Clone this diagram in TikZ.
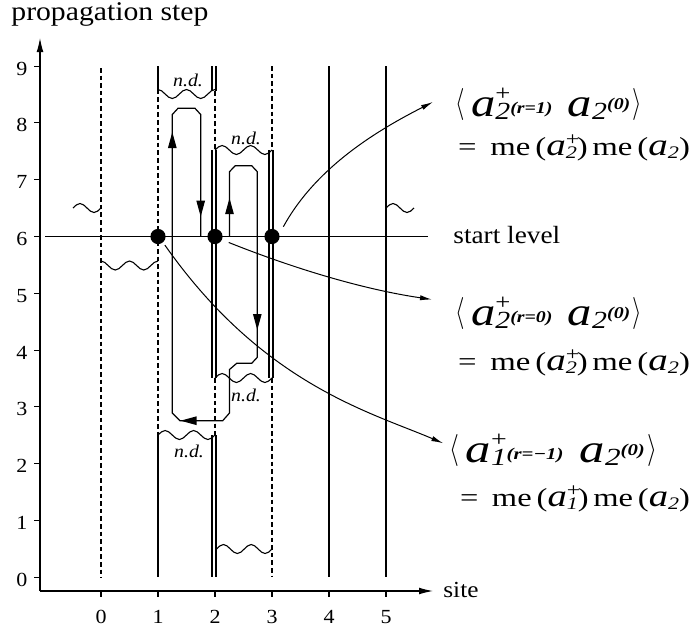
\documentclass[tikz,border=0pt]{standalone}
\usepackage{fontspec}
\setmainfont{Liberation Serif}[FakeStretch=1.1]
\usepackage{graphicx}
\usetikzlibrary{arrows.meta}

\newcommand\fs[1]{\fontsize{#1}{#1}\selectfont}
% first line of each formula
\newcommand\Ra{{\fs{20}\itshape a}}
\newcommand\Rsub[1]{\raisebox{-1.7pt}{\fs{12.3}\itshape #1}}
\newcommand\Rsup{\rlap{\raisebox{8pt}{\fs{11}+}}}
\newcommand\Rlab[2]{\raisebox{#1}{\fs{8.2}\bfseries\itshape #2}}
\newcommand\LA{\raisebox{2.2pt}{\scalebox{1.1}[1.6]{$\langle$}}}
\newcommand\RA{\raisebox{2.2pt}{\scalebox{1.1}[1.6]{$\rangle$}}}
\newcommand\FA[3]{\resizebox{#3}{\height}{\LA\hspace{3pt}\Ra\Rsup\Rsub{#1}\Rlab{1.6pt}{#2}\hspace{7pt}\Ra\Rsub{2}\Rlab{3.3pt}{(0)}\hspace{1pt}\RA}}
% second line
\newcommand\Sa{{\fs{15.5}\itshape a}}
\newcommand\Ssub[1]{\raisebox{-1.6pt}{\fs{8.8}\itshape #1}}
\newcommand\Ssup{\rlap{\raisebox{5pt}{\fs{9.5}+}}}
\newcommand\FB[2]{\resizebox{#2}{\height}{\fs{13}=\hspace{6pt}me\,(\Sa\Ssup\Ssub{#1})\hspace{2pt}me\,(\Sa\Ssub{2})}}

\begin{document}
\begin{tikzpicture}[x=0.5pt,y=-0.5pt,
  axis/.style={line width=0.55pt,-{Latex[length=7pt,width=3.4pt]}},
  sline/.style={line width=0.55pt},
  dashline/.style={line width=0.55pt,dash pattern=on 2.3pt off 1.5pt},
  wave/.style={line width=0.55pt},
  loopline/.style={line width=0.6pt},
  ltip/.style={line width=0.6pt,-{Triangle[length=8pt,width=4.2pt]}},
  dot/.style={circle,fill=black,minimum size=7.6pt,inner sep=0pt},
  conn/.style={line width=0.5pt,-{Latex[length=6pt,width=2.6pt]}},
  fline/.style={inner sep=0pt,outer sep=0pt},
  ndlab/.style={inner sep=0pt,font=\fs{9}\itshape},
  ticklab/.style={inner sep=0pt,font=\fs{10}},
]
\useasboundingbox (0,0) rectangle (691,629);

% axes
\coordinate (O) at (40,591);
\coordinate (ytop) at (40,38);
\coordinate (xend) at (433,591);
\draw[axis] (O) -- (ytop);
\draw[axis] (O) -- (xend);
\foreach \t in {0,...,9}{
  \draw[sline] (34,{577.3-56.8*\t}) -- (40,{577.3-56.8*\t});
  \node[ticklab,anchor=base] (yl\t) at (22,{577.3-56.8*\t+9}) {\t};
}
\foreach \s in {0,...,5}{
  \draw[sline] ({101+57*\s},591) -- ({101+57*\s},597);
  \node[ticklab,anchor=base] (xl\s) at ({101+57*\s},623.3) {\s};
}
\node[inner sep=0pt,anchor=base west,font=\fs{13.5}] (ylab) at (11,20) {propagation step};
\node[inner sep=0pt,anchor=base west,font=\fs{11.5}] (xlab) at (443,597) {site};

% site lines
\draw[dashline] (101,68) -- (101,577.3);
\draw[sline] (158,66) -- (158,89.5);
\draw[dashline] (158,89.5) -- (158,435);
\draw[sline] (158,435) -- (158,577.3);
\draw[sline] (212,66) -- (212,91) (216,66) -- (216,91);
\draw[dashline] (215,91) -- (215,150);
\draw[sline] (212,150) -- (212,378) (216,150) -- (216,378);
\draw[dashline] (215,378) -- (215,435);
\draw[sline] (212,435) -- (212,577.3) (216,435) -- (216,577.3);
\draw[dashline] (272,66) -- (272,150);
\draw[sline] (269,150) -- (269,378) (273,150) -- (273,378);
\draw[dashline] (272,378) -- (272,577.3);
\draw[sline] (329,66) -- (329,577.3);
\draw[sline] (386,66) -- (386,577.3);

% wavy cuts
\draw[wave] (158,89.5) cos ++(7.125,4.5) sin ++(7.125,4.5) cos ++(7.125,-4.5) sin ++(7.125,-4.5)
                       cos ++(7.125,4.5) sin ++(7.125,4.5) cos ++(7.125,-4.5) sin ++(7.125,-4.5);
\draw[wave] (215,150) sin ++(7.125,-4.5) cos ++(7.125,4.5) sin ++(7.125,4.5) cos ++(7.125,-4.5)
                      sin ++(7.125,-4.5) cos ++(7.125,4.5) sin ++(7.125,4.5) cos ++(7.125,-4.5);
\draw[wave] (215,378) sin ++(7.125,-4.5) cos ++(7.125,4.5) sin ++(7.125,4.5) cos ++(7.125,-4.5)
                      sin ++(7.125,-4.5) cos ++(7.125,4.5) sin ++(7.125,4.5) cos ++(7.125,-4.5);
\draw[wave] (158,435) sin ++(7.125,-4.5) cos ++(7.125,4.5) sin ++(7.125,4.5) cos ++(7.125,-4.5)
                      sin ++(7.125,-4.5) cos ++(7.125,4.5) sin ++(7.125,4.5) cos ++(7.125,-4.5);
\draw[wave] (216.5,549) sin ++(6.94,-4.5) cos ++(6.94,4.5) sin ++(6.94,4.5) cos ++(6.94,-4.5)
                        sin ++(6.94,-4.5) cos ++(6.94,4.5) sin ++(6.94,4.5) cos ++(6.94,-4.5);
\draw[wave] (101,261) cos ++(7.125,4.5) sin ++(7.125,4.5) cos ++(7.125,-4.5) sin ++(7.125,-4.5)
                      cos ++(7.125,4.5) sin ++(7.125,4.5) cos ++(7.125,-4.5) sin ++(7.125,-4.5);
\draw[wave] (73,208) sin ++(7,-4.5) cos ++(7,4.5) sin ++(7,4.5) cos ++(7,-4.5);
\draw[wave] (386,208) sin ++(7,-4.5) cos ++(7,4.5) sin ++(7,4.5) cos ++(7,-4.5);

% n.d. labels
\node[ndlab] (nd1) at (188,80) {n.d.};
\node[ndlab] (nd2) at (246,138) {n.d.};
\node[ndlab] (nd3) at (246,395) {n.d.};
\node[ndlab] (nd4) at (189,451) {n.d.};

% start level
\draw[sline] (45,236.5) -- (427.7,236.5);
\node[inner sep=0pt,anchor=base west,font=\fs{12.4}] (slab) at (453,243.3) {start level};

% loop path
\draw[loopline] (229.5,236.5) -- (229.5,171.7) -- (235.2,165.7) -- (251.7,165.7) -- (257.3,171.7)
  -- (257.3,357.3) -- (251.7,363.3) -- (236.7,363.3) -- (229.5,369.5) -- (229.5,413)
  -- (222.7,420.7) -- (180,420.7) -- (172.3,413) -- (172.3,114.5) -- (178,108.3)
  -- (195,108.3) -- (200.7,114.5) -- (200.7,236.5);
\draw[ltip] (172.3,150) -- (172.3,132);
\draw[ltip] (200.7,196) -- (200.7,216.7);
\draw[ltip] (229.5,214) -- (229.5,198);
\draw[ltip] (257.3,314) -- (257.3,330);
\draw[ltip] (199,420.7) -- (180.5,420.7);

% dots
\node[dot] (d1) at (158,236.5) {};
\node[dot] (d2) at (215,236.5) {};
\node[dot] (d3) at (272,236.5) {};

% formulas
\node[fline,anchor=base west] (f1) at (455,116.4) {\FA{2}{(r=1)}{93.5pt}};
\node[fline,anchor=base west] (g1) at (458,155) {\FB{2}{116pt}};
\node[fline,anchor=base west] (f2) at (455,325.4) {\FA{2}{(r=0)}{93.5pt}};
\node[fline,anchor=base west] (g2) at (458,370) {\FB{2}{116pt}};
\node[fline,anchor=base west] (f3) at (449,462.4) {\FA{1}{(r=−1)}{104pt}};
\node[fline,anchor=base west] (g3) at (460,506.7) {\FB{1}{115pt}};

% connectors
\draw[conn,shorten <=4pt] (d3.20) .. controls (316.4,166.2) and (379.5,129.2) .. ([shift={(-22,-2)}]f1.west);
\draw[conn,shorten <=3.5pt] (d2.-25) .. controls (293.7,268.4) and (362.7,289.3) .. ([shift={(-23,-13.5)}]f2.west);
\draw[conn,shorten <=1.5pt] (d1.-50) .. controls (262.6,384.2) and (370,412) .. ([shift={(-5.7,-6.7)}]f3.west);
\end{tikzpicture}
\end{document}
